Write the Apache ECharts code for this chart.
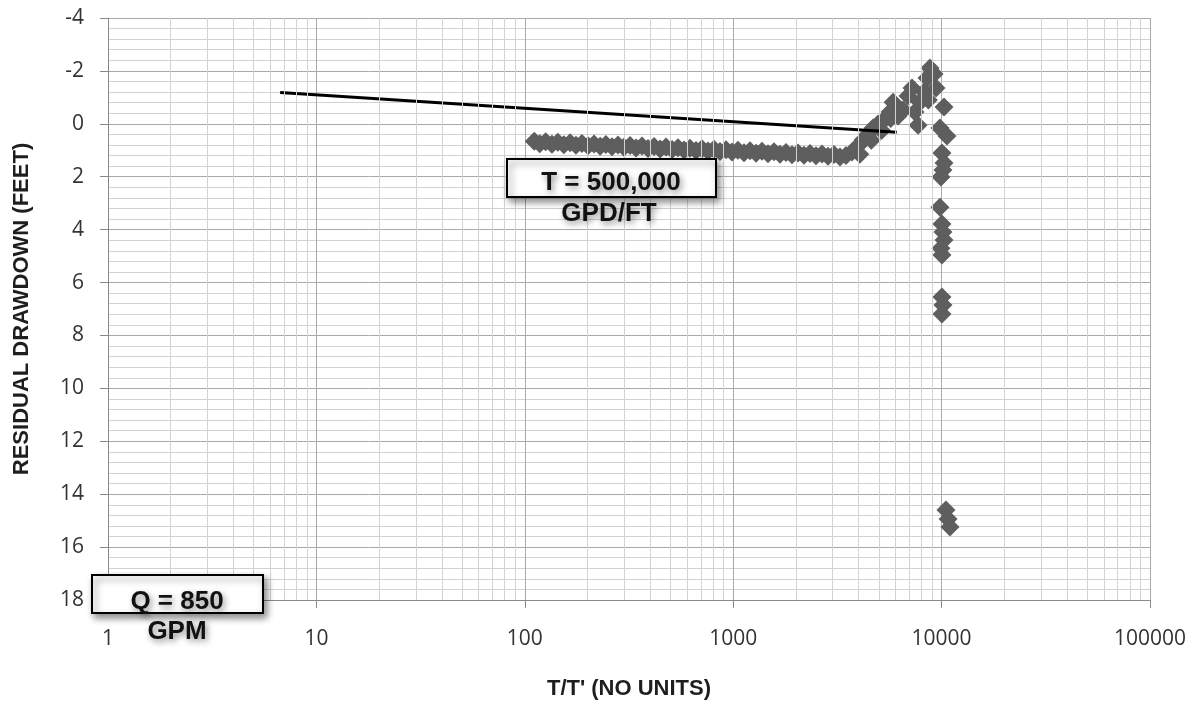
<!DOCTYPE html>
<html>
<head>
<meta charset="utf-8">
<script src="https://cdn.jsdelivr.net/npm/echarts@6/dist/echarts.min.js"></script>
<style>
html,body{margin:0;padding:0;background:#fff;}
#chart{width:1203px;height:708px;}
</style>
</head>
<body>
<div id="chart"></div>
<script>
// ---- data ----
const xTickLabels = ['1', '10', '100', '1000', '10000', '100000'];

// flat recovery band (T/T', residual drawdown ft)
const bandT = [111,118,126,135,144,154,165,176,188,201,215,230,245,262,280,299,320,342,365,390,417,446,476,509,543,581,620,663,708,757,809,864,924,987,1054,1127,1204,1287,1375,1469,1570,1677,1792,1915,2046,2186,2336,2496,2668,2850,3046,3254,3477];
const bandS = [0.66,0.75,0.68,0.77,0.70,0.79,0.72,0.81,0.74,0.83,0.76,0.85,0.78,0.87,0.80,0.89,0.82,0.91,0.84,0.93,0.86,0.95,0.88,0.97,0.90,0.99,0.92,1.01,0.94,1.03,0.96,1.05,0.98,1.07,1.00,1.09,1.02,1.11,1.04,1.13,1.06,1.15,1.08,1.17,1.10,1.19,1.12,1.21,1.14,1.23,1.16,1.25,1.20];

// rising part before the peak
const riseT = [3715,3970,4050,4200,4435,4600,4690,4955,5150,5295,5654,5700,5850,6180,6530,6900,7210,7450,7710,7870,8240,8510,8790,9200,8640,9400];
const riseS = [1.07,0.84,1.15,0.61,0.39,0.62,0.16,0.01,0.25,-0.14,-0.45,-0.20,-0.82,-0.30,-0.52,-1.05,-1.35,-0.45,0.05,-0.82,-1.20,-1.73,-2.11,-1.88,-0.90,-1.35];

// near-vertical column at T/T' ~ 10000
const columnT = [10270,9820,10610,10040,10270,10150,9930,9820,10040,10150,10270,9930,10040,10040,10150,10040,10490,10740,10970];
const columnS = [-0.64,0.16,0.46,1.10,1.48,1.75,2.01,3.15,3.79,4.09,4.39,4.70,4.96,6.55,6.85,7.19,14.60,14.94,15.24];

// fitted straight line
const lineT = [6.7, 6090];
const lineS = [-1.18, 0.32];

// ---- build ----
function pairs(xs, ys){ return xs.map((x,i)=>[x, ys[i]]); }
const points = pairs(bandT, bandS).concat(pairs(riseT, riseS), pairs(columnT, columnS));

const minorX = [];
for (let d = 1; d <= 10000; d *= 10) for (let k = 2; k <= 9; k++) minorX.push({xAxis: d * k});

const chart = echarts.init(document.getElementById('chart'), null, {renderer: 'canvas'});
const tickFont = {fontFamily: '"Open Sans"', fontSize: 21, color: '#333'};
const titleFont = {fontFamily: '"Liberation Sans"', fontSize: 22, fontWeight: 'bold', color: '#1e1e1e'};
const boxText = (txt, x, y) => ({
  type: 'text', x: x, y: y, z: 110,
  style: {
    text: txt, font: 'bold 26px "Liberation Sans"', fill: '#111',
    align: 'center', verticalAlign: 'middle',
    textShadowColor: 'rgba(0,0,0,0.45)', textShadowBlur: 6, textShadowOffsetX: 2, textShadowOffsetY: 3
  }
});
const boxRect = (x, y, w, h) => ({
  type: 'rect', z: 100,
  shape: {x: x, y: y, width: w, height: h},
  style: {fill: '#fff', stroke: '#000', lineWidth: 2,
    shadowBlur: 7, shadowColor: 'rgba(0,0,0,0.45)', shadowOffsetX: 3, shadowOffsetY: 4}
});

chart.setOption({
  animation: false,
  backgroundColor: '#fff',
  grid: {left: 108, right: 53, top: 18, bottom: 108, containLabel: false},
  xAxis: {
    type: 'log', logBase: 10, min: 1, max: 100000,
    name: "T/T' (NO UNITS)", nameLocation: 'middle', nameGap: 78,
    nameTextStyle: titleFont,
    axisLine: {onZero: false, lineStyle: {color: '#8a8a8a', width: 1}},
    axisTick: {show: true, inside: false, length: 8, lineStyle: {color: '#8a8a8a'}},
    axisLabel: Object.assign({margin: 29, formatter: v => xTickLabels[Math.round(Math.log10(v))]}, tickFont),
    splitLine: {show: true, lineStyle: {color: '#a9a9a9', width: 1}},
    minorTick: {show: false},
    minorSplitLine: {show: false}
  },
  yAxis: {
    type: 'value', inverse: true, min: -4, max: 18, interval: 2,
    name: 'RESIDUAL DRAWDOWN (FEET)', nameLocation: 'middle', nameGap: 75,
    nameTextStyle: titleFont,
    axisLine: {show: true, onZero: false, lineStyle: {color: '#8a8a8a', width: 1}},
    axisTick: {show: true, inside: false, length: 8, lineStyle: {color: '#8a8a8a'}},
    axisLabel: Object.assign({margin: 24}, tickFont),
    splitLine: {show: true, lineStyle: {color: '#a9a9a9', width: 1}},
    minorTick: {show: false, splitNumber: 5},
    minorSplitLine: {show: true, lineStyle: {color: '#d2d2d2', width: 1}}
  },
  series: [
    {
      type: 'scatter', name: 'minor grid', data: [], z: 1, silent: true,
      markLine: {
        silent: true, symbol: ['none', 'none'], animation: false,
        label: {show: false},
        lineStyle: {color: '#d2d2d2', width: 1, type: 'solid'},
        emphasis: {disabled: true},
        data: minorX
      }
    },
    {
      type: 'scatter', name: 'recovery', data: points,
      symbol: 'diamond', symbolSize: [19, 19], z: 3,
      itemStyle: {color: '#5e5e5e', opacity: 1}
    },
    {
      type: 'line', name: 'fit', data: pairs(lineT, lineS), z: 4,
      symbol: 'none', lineStyle: {color: '#000', width: 3}
    }
  ],
  graphic: [
    boxRect(507, 159, 209, 38),
    boxText('T = 500,000', 611, 183),
    boxText('GPD/FT', 609, 214),
    boxRect(92, 575, 171, 38),
    boxText('Q = 850', 177, 602),
    boxText('GPM', 177, 632)
  ]
});
</script>
</body>
</html>
